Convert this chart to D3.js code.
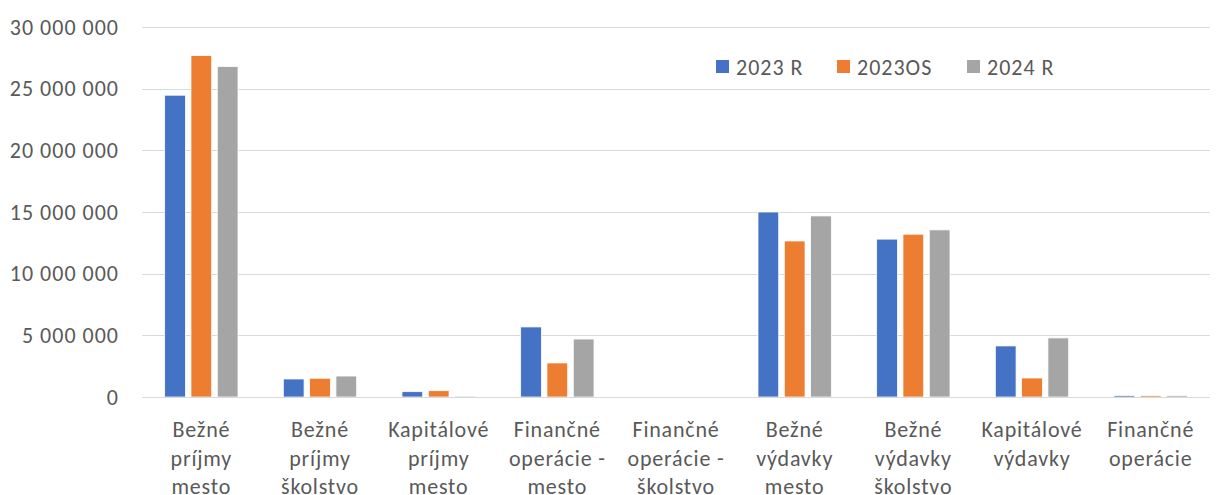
<!DOCTYPE html>
<html>
<head>
<meta charset="utf-8">
<script src="https://cdn.jsdelivr.net/npm/d3@7"></script>
<style>
  body { margin: 0; background: #fff; }
  svg text { font-family: Carlito, Lato, "Open Sans", sans-serif; fill: #595959; letter-spacing: 1px; }
</style>
</head>
<body>
<div class="chart"></div>
<script>
const w = 1216;
const h = 495;

// categories split into label lines
const categories = [
  "Bežné príjmy mesto",
  "Bežné príjmy školstvo",
  "Kapitálové príjmy mesto",
  "Finančné operácie - mesto",
  "Finančné operácie - školstvo",
  "Bežné výdavky mesto",
  "Bežné výdavky školstvo",
  "Kapitálové výdavky",
  "Finančné operácie"
];
const catLines = [
  ["Bežné", "príjmy", "mesto"],
  ["Bežné", "príjmy", "školstvo"],
  ["Kapitálové", "príjmy", "mesto"],
  ["Finančné", "operácie -", "mesto"],
  ["Finančné", "operácie -", "školstvo"],
  ["Bežné", "výdavky", "mesto"],
  ["Bežné", "výdavky", "školstvo"],
  ["Kapitálové", "výdavky"],
  ["Finančné", "operácie"]
];

const seriesNames = ["2023 R", "2023OS", "2024 R"];
const colors = ["#4472c4", "#ed7d31", "#a5a5a5"];

const r2023 = [24470000, 1460000, 430000, 5680000, 0, 15000000, 12800000, 4140000, 120000];
const os2023 = [27680000, 1520000, 510000, 2760000, 0, 12650000, 13200000, 1540000, 120000];
const r2024 = [26790000, 1700000, 80000, 4700000, 0, 14680000, 13550000, 4790000, 120000];
const series = [r2023, os2023, r2024];

const yTicks = [0, 5000000, 10000000, 15000000, 20000000, 25000000, 30000000];

const margin = {top: 27, right: 6, bottom: 98, left: 142};

const svg = d3.select(".chart").append("svg")
  .attr("width", w)
  .attr("height", h);

const x = d3.scaleBand()
  .domain(d3.range(categories.length))
  .range([margin.left, w - margin.right]);

const y = d3.scaleLinear()
  .domain([0, 30000000])
  .range([h - margin.bottom, margin.top]);

// Excel style: gap width 219%, overlap -27%
const barW = x.bandwidth() / 5.73;
const step = barW * 1.27;
const groupW = barW * 3.54;

const fmt = v => d3.format(",")(v).replace(/,/g, " ");

// gridlines
svg.append("g")
  .selectAll("line")
  .data(yTicks)
  .enter().append("line")
  .attr("x1", margin.left)
  .attr("x2", w - margin.right)
  .attr("y1", d => Math.round(y(d)) + 0.5)
  .attr("y2", d => Math.round(y(d)) + 0.5)
  .attr("stroke", "#d9d9d9")
  .attr("stroke-width", 1);

// y labels
svg.append("g")
  .selectAll("text")
  .data(yTicks)
  .enter().append("text")
  .attr("x", 119)
  .attr("y", d => y(d))
  .attr("dy", "0.35em")
  .attr("text-anchor", "end")
  .style("font-size", "22px")
  .text(d => fmt(d));

// bars
series.forEach((vals, s) => {
  svg.append("g")
    .selectAll("rect")
    .data(vals)
    .enter().append("rect")
    .attr("x", (d, i) => x(i) + (x.bandwidth() - groupW) / 2 + s * step)
    .attr("y", d => y(d))
    .attr("width", barW)
    .attr("height", d => y(0) - y(d))
    .attr("fill", colors[s])
    .attr("stroke", "#fff")
    .attr("stroke-width", 0.75);
});

// axis line
svg.append("line")
  .attr("x1", margin.left)
  .attr("x2", w - margin.right)
  .attr("y1", Math.round(y(0)) + 0.5)
  .attr("y2", Math.round(y(0)) + 0.5)
  .attr("stroke", "#d9d9d9");

// category labels
const labG = svg.append("g")
  .selectAll("text")
  .data(catLines)
  .enter().append("text")
  .attr("text-anchor", "middle")
  .style("font-size", "22px")
  .style("letter-spacing", "0.8px");

labG.selectAll("tspan")
  .data((d, i) => d.map(t => ({t, i})))
  .enter().append("tspan")
  .attr("x", d => x(d.i) + x.bandwidth() / 2)
  .attr("y", (d, j) => 437 + j * 28.5)
  .text(d => d.t);

// legend
const legendX = [716, 837, 967];
const leg = svg.append("g")
  .selectAll("g")
  .data(seriesNames)
  .enter().append("g")
  .attr("transform", (d, i) => `translate(${legendX[i]},60)`);

leg.append("rect")
  .attr("width", 13)
  .attr("height", 13)
  .attr("fill", (d, i) => colors[i]);

leg.append("text")
  .attr("x", 20)
  .attr("y", 7)
  .attr("dy", "0.35em")
  .style("font-size", "22px")
  .text(d => d);
</script>
</body>
</html>
